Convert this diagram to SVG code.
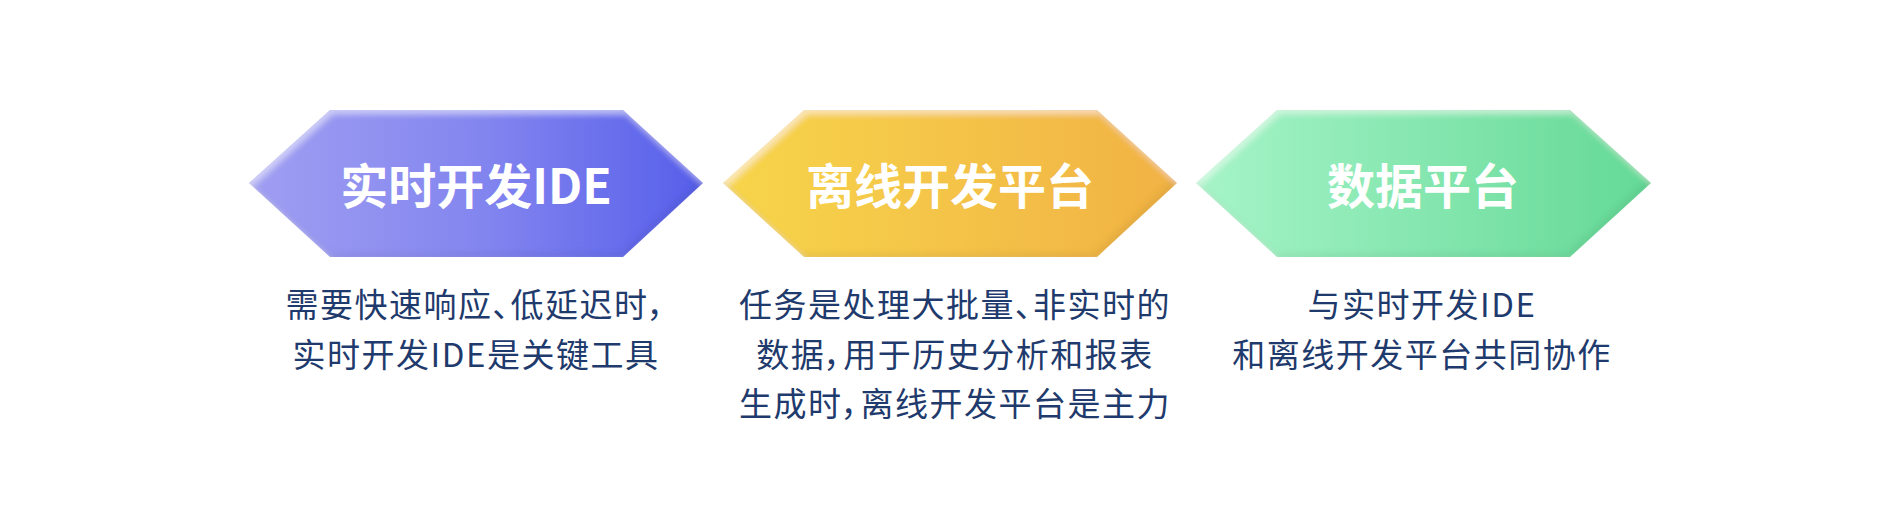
<svg xmlns="http://www.w3.org/2000/svg" width="1888" height="532" viewBox="0 0 1888 532">
<style>
.title{font-family:"Noto Sans CJK SC","Noto Sans",sans-serif;font-weight:700;font-size:48px;fill:#ffffff;text-anchor:middle}
.desc{font-family:"Noto Sans CJK SC","Noto Sans",sans-serif;font-weight:400;font-size:33px;fill:#1f3a6c;text-anchor:middle;letter-spacing:1.5px;font-feature-settings:"palt"}
</style>
<defs>
<linearGradient id="gPurple" x1="0" y1="0" x2="1" y2="0">
<stop offset="0" stop-color="#a09ef2"/>
<stop offset="0.5" stop-color="#8486ef"/>
<stop offset="1" stop-color="#575fea"/>
</linearGradient>
<linearGradient id="gYellow" x1="0" y1="0" x2="1" y2="0">
<stop offset="0" stop-color="#f7d54b"/>
<stop offset="1" stop-color="#f1b244"/>
</linearGradient>
<linearGradient id="gGreen" x1="0" y1="0" x2="1" y2="0">
<stop offset="0" stop-color="#a6f4c8"/>
<stop offset="1" stop-color="#64d996"/>
</linearGradient>
<filter id="bevel" x="-5%" y="-10%" width="110%" height="120%">
<feGaussianBlur in="SourceAlpha" stdDeviation="3" result="b"/>
<feOffset in="b" dx="3" dy="4" result="o1"/>
<feComposite in="SourceAlpha" in2="o1" operator="out" result="hl"/>
<feFlood flood-color="#ffffff" flood-opacity="0.45"/>
<feComposite in2="hl" operator="in" result="hlc"/>
<feOffset in="b" dx="-3" dy="-4" result="o2"/>
<feComposite in="SourceAlpha" in2="o2" operator="out" result="sh"/>
<feFlood flood-color="#000000" flood-opacity="0.12"/>
<feComposite in2="sh" operator="in" result="shc"/>
<feMerge><feMergeNode in="SourceGraphic"/><feMergeNode in="hlc"/><feMergeNode in="shc"/></feMerge>
</filter>
</defs>
<rect width="1888" height="532" fill="#ffffff"/>
<g id="connectors"></g>
<g id="node-realtime-ide">
<polygon points="249,183 330,110 623,110 703,183 623,257 330,257" fill="url(#gPurple)" filter="url(#bevel)"/>
<text class="title" x="476" y="204">实时开发IDE</text>
<text class="desc" x="476" y="317">需要快速响应、低延迟时，</text>
<text class="desc" x="476" y="367">实时开发IDE是关键工具</text>
</g>
<g id="node-offline-platform">
<polygon points="723,183 804,110 1097,110 1177,183 1097,257 804,257" fill="url(#gYellow)" filter="url(#bevel)"/>
<text class="title" x="950" y="204">离线开发平台</text>
<text class="desc" x="955" y="317">任务是处理大批量、非实时的</text>
<text class="desc" x="955" y="367">数据，用于历史分析和报表</text>
<text class="desc" x="955" y="416">生成时，离线开发平台是主力</text>
</g>
<g id="node-data-platform">
<polygon points="1196,183 1277,110 1570,110 1651,183 1570,257 1277,257" fill="url(#gGreen)" filter="url(#bevel)"/>
<text class="title" x="1423" y="204">数据平台</text>
<text class="desc" x="1422" y="317">与实时开发IDE</text>
<text class="desc" x="1422" y="367">和离线开发平台共同协作</text>
</g>
</svg>
